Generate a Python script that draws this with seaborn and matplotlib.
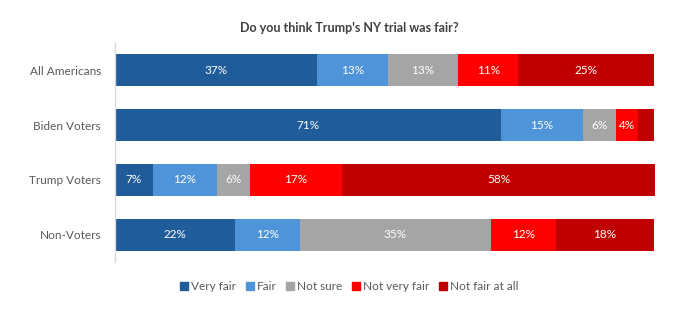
import matplotlib
matplotlib.use("Agg")
import matplotlib.pyplot as plt
import seaborn as sns
import numpy as np
import pandas as pd
from matplotlib.lines import Line2D

# Survey data: share of each group per answer (percent)
groups = ["All Americans", "Biden Voters", "Trump Voters", "Non-Voters"]
answers = ["Very fair", "Fair", "Not sure", "Not very fair", "Not fair at all"]
very_fair = [37.4, 71.4, 7.0, 22.2]
fair = [13.1, 15.3, 11.9, 12.0]
not_sure = [13.1, 6.1, 6.1, 35.4]
not_very_fair = [11.1, 4.1, 17.0, 12.0]
not_fair_at_all = [25.2, 3.0, 58.0, 18.3]
colors = ["#1F5C99", "#4F94D8", "#A5A5A5", "#FF0000", "#C00000"]
title = "Do you think Trump's NY trial was fair?"

series = [very_fair, fair, not_sure, not_very_fair, not_fair_at_all]

sns.set_theme(style="white")
plt.rcParams["font.family"] = ["Lato", "DejaVu Sans"]

fig = plt.figure(figsize=(6.99, 3.34), dpi=100)
ax = fig.add_axes([115 / 699, 1 - 262 / 334, 540 / 699, 219 / 334])

vals = np.array(series)            # shape (answers, groups)
cum = np.cumsum(vals, axis=0)

# Stacked bars: draw cumulative totals from the outermost segment inward
for i in range(len(answers) - 1, -1, -1):
    df = pd.DataFrame({"group": groups, "value": cum[i]})
    sns.barplot(data=df, y="group", x="value", order=groups, orient="h",
                color=colors[i], width=0.585, ax=ax, saturation=1,
                edgecolor="none", linewidth=0)

# Percentage labels centred in each segment
for i in range(len(answers)):
    for j in range(len(groups)):
        v = vals[i, j]
        if v < 3.5:
            continue
        xc = cum[i, j] - v / 2
        ax.text(xc, j, f"{round(v):d}%", ha="center", va="center",
                color="white", fontsize=8.5)

ax.set_xlim(0, 100)
ax.set_ylim(len(groups) - 0.5, -0.5)
ax.set_xlabel("")
ax.set_ylabel("")
ax.set_xticks([])
ax.tick_params(axis="y", length=0, pad=10, labelsize=8.5, labelcolor="#595959")
for s in ["top", "right", "bottom"]:
    ax.spines[s].set_visible(False)
ax.spines["left"].set_color("#D9D9D9")
ax.spines["left"].set_linewidth(1)

fig.text(0.5, 1 - 28 / 334, title, ha="center", va="center",
         fontsize=9, fontweight="bold", color="#404040")

handles = [Line2D([0], [0], marker="s", linestyle="none", markersize=5.5,
                  markerfacecolor=c, markeredgecolor=c) for c in colors]
fig.legend(handles, answers, loc="center", ncol=5,
           bbox_to_anchor=(0.5, 1 - 287 / 334), frameon=False,
           fontsize=8.5, labelcolor="#595959", handletextpad=0.25,
           columnspacing=0.9, handlelength=0.6)

fig.savefig("out.png", dpi=100, facecolor="white")
